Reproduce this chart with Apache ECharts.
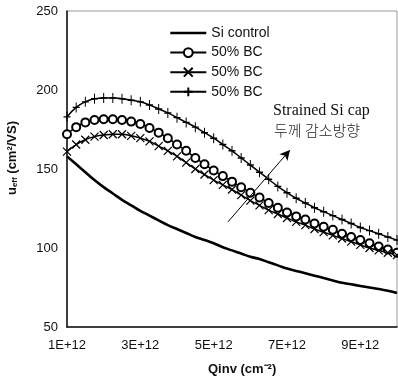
<!DOCTYPE html>
<html><head><meta charset="utf-8">
<script src="https://cdn.jsdelivr.net/npm/echarts@6/dist/echarts.min.js"></script>
<style>html,body{margin:0;padding:0;background:#fff}#c{width:398px;height:382px}</style>
</head><body><div id="c"></div>
<script>
// Qinv in units of 1E+12 cm^-2
const qinv = [1,1.25,1.5,1.75,2,2.25,2.5,2.75,3,3.25,3.5,3.75,4,4.25,4.5,4.75,5,5.25,5.5,5.75,6,6.25,6.5,6.75,7,7.25,7.5,7.75,8,8.25,8.5,8.75,9,9.25,9.5,9.75,10];
const siControl = [158,153,148,143,138.5,134.5,130.5,127,123.5,120.5,117.5,114.5,112,109.5,107,105,103,100.5,98.5,96.5,94.5,93,91,89,87,85.5,84,82.5,81,79.5,78,77,76,75,74,73,71.5];
const bcCircle = [172,176.5,179.5,181,181.5,181.5,181,180,178.5,176,173,169.5,165.5,161.5,157,153,149,145.5,142,138.5,135,132,128.5,125.5,122.5,120,118,115.5,113.5,111.5,109,107,105,103,101,99,97];
const bcCross = [161,165.5,168.5,170.5,171.5,172,172,171,169.5,167.5,164.5,161.5,158,154,150,146.5,143,140,137,133.5,130,127,124,121.5,119,116.5,114.5,112,110,108,106,104,102,100,98.5,97,95.5];
const bcPlus = [183,189,192.5,194.5,195,195,194.5,193.5,192.5,190.5,188,185.5,182.5,179.5,176.5,173,169.5,165.5,161.5,157,152.5,148,143.5,139,135,131.5,128.5,125.5,123,120.5,118,115.5,113,111,109,107,105];
const xTicks = [1,3,5,7,9];
const seriesNames = ['Si control','50% BC','50% BC ','50% BC  '];
const arrowFrom = [5.39,116.5];
const arrowTo = [7.08,162];

const pair = a => qinv.map((x,i)=>[x,a[i]]);
const chart = echarts.init(document.getElementById('c'));
const txt = {color:'#111', fontFamily:'"Liberation Sans", Arial, sans-serif', fontSize:13};
chart.setOption({
  animation:false,
  grid:{left:67, top:11, right:1, bottom:55, show:true, borderColor:'#999', borderWidth:1},
  xAxis:{type:'value', min:1, max:10,
    axisLine:{show:true, onZero:false, lineStyle:{color:'#111', width:1.5}},
    axisTick:{show:false}, splitLine:{show:false},
    axisLabel:Object.assign({customValues:xTicks, margin:12, formatter:v=>v+'E+12'}, txt)},
  yAxis:{type:'value', min:50, max:250, interval:50,
    axisLine:{show:true, lineStyle:{color:'#111', width:1.5}},
    axisTick:{show:false}, splitLine:{show:false},
    axisLabel:Object.assign({margin:9}, txt)},
  legend:{orient:'vertical', left:164, top:21, itemWidth:36, itemHeight:11, itemGap:5.6,
    formatter:n=>n.trim(), textStyle:Object.assign({}, txt, {fontSize:14}),
    data:[{name:seriesNames[0], lineStyle:{width:2.6, color:'#000'}, itemStyle:{color:'rgba(0,0,0,0)', borderColor:'rgba(0,0,0,0)', borderWidth:0}},
          seriesNames[1], seriesNames[2], seriesNames[3]]},
  graphic:[
    {type:'text', left:273, top:103, style:{text:'Strained Si cap', fill:'#111', fontSize:16, fontFamily:'"Liberation Serif", "Times New Roman", serif'}},
    {type:'text', left:274, top:123, style:{text:'두께 감소방향', fill:'#222', fontSize:15, fontFamily:'"Noto Sans CJK KR", sans-serif', fontWeight:300}},
    {type:'text', x:12, y:158, rotation:Math.PI/2, originX:0, originY:0,
     style:{text:'{b|u}{s|eff}{b| (cm²/VS)}', fill:'#111', align:'center', verticalAlign:'middle',
       rich:{b:{fontFamily:'"Liberation Sans", Arial, sans-serif', fontSize:13, fontWeight:'bold', fill:'#111'},
             s:{fontFamily:'"Liberation Sans", Arial, sans-serif', fontSize:8, fontWeight:'bold', fill:'#111', padding:[6,0,0,0]}}}},
    {type:'text', left:208, top:363, style:{text:'Qinv (cm⁻²)', fill:'#111', fontSize:13, fontWeight:'bold', fontFamily:'"Liberation Sans", Arial, sans-serif'}}
  ],
  series:[
    {name:seriesNames[0], type:'line', data:pair(siControl), smooth:true, showSymbol:false, symbol:'none',
     lineStyle:{color:'#000', width:2.6}, itemStyle:{color:'#000'}, z:3},
    {name:seriesNames[1], type:'line', data:pair(bcCircle), smooth:true, symbol:'emptyCircle', symbolSize:8,
     lineStyle:{color:'#000', width:1.5}, itemStyle:{color:'#000', borderColor:'#000', borderWidth:1.2}},
    {name:seriesNames[2], type:'line', data:pair(bcCross), smooth:true, symbol:'path://M0,0L10,10M10,0L0,10', symbolSize:8,
     lineStyle:{color:'#000', width:1.5}, itemStyle:{color:'#000', borderColor:'#000', borderWidth:1.2}},
    {name:seriesNames[3], type:'line', data:pair(bcPlus), smooth:true, symbol:'path://M5,0L5,10M0,5L10,5', symbolSize:[7,10],
     lineStyle:{color:'#000', width:1.5}, itemStyle:{color:'#000', borderColor:'#000', borderWidth:1.2},
     markLine:{silent:true, symbol:['none','arrow'], symbolSize:[8,10], label:{show:false},
       lineStyle:{color:'#000', width:1, type:'solid'},
       data:[[{coord:arrowFrom},{coord:arrowTo}]]}}
  ]
});
</script></body></html>
